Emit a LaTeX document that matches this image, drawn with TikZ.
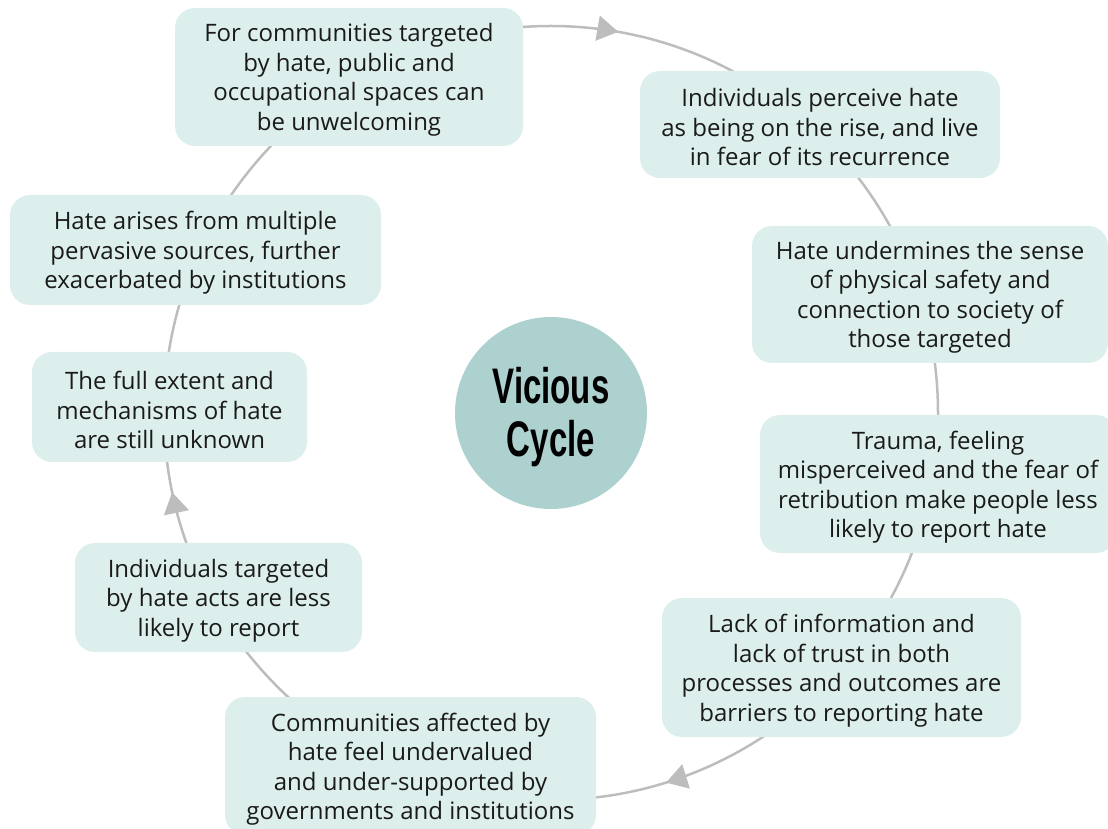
\documentclass[tikz,border=0pt]{standalone}
\usepackage{fontspec}
\setmainfont{Open Sans}
\newfontfamily\titlefont{Liberation Sans}
\usetikzlibrary{arrows.meta,decorations.markings}
\definecolor{boxfill}{HTML}{DCEFEC}
\definecolor{hubfill}{HTML}{ADD1CF}
\definecolor{ringgray}{HTML}{BDBDBD}
\definecolor{inktext}{HTML}{1A1A1A}
\begin{document}
\begin{tikzpicture}[x=1pt,y=1pt,
  stepbox/.style={fill=boxfill, rounded corners=20pt, inner sep=0pt},
  steptext/.style={align=center, inner sep=0pt, yshift=-3pt, fill=none,
    text=inktext, font=\fontsize{24}{29.5}\selectfont},
  hub/.style={circle, fill=hubfill, minimum size=192pt, inner sep=0pt},
  hubtext/.style={align=center, inner sep=0pt, yshift=-4pt,
    text=black, font=\titlefont\bfseries\fontsize{50}{53}\selectfont},
  ring/.style={draw=ringgray, line width=2.5pt},
  cyclearrow/.style={ringgray, fill=ringgray},
]
\useasboundingbox (0,0) rectangle (1108,828);
\node[hub, label={[hubtext]center:{\scalebox{0.66}[1]{Vicious}\\\scalebox{0.66}[1]{Cycle}}}] (hub) at (551,415) {};
\draw[ring, postaction={decorate}, decoration={markings,
    mark=at position 0.2222 with {\arrowreversed[cyclearrow]{Triangle[length=21pt,width=25pt]}},
    mark=at position 0.5328 with {\arrowreversed[cyclearrow]{Triangle[length=21pt,width=25pt]}},
    mark=at position 0.7980 with {\arrowreversed[cyclearrow]{Triangle[length=21pt,width=25pt]}}}]
  (hub.center) circle[radius=387pt];
\node[stepbox, minimum width=348pt, minimum height=138pt,
  label={[steptext]center:{For communities targeted\\by hate, public and\\occupational spaces can\\be unwelcoming}}] (b1) at (349,751) {};
\node[stepbox, minimum width=360pt, minimum height=107pt,
  label={[steptext]center:{Individuals perceive hate\\as being on the rise, and live\\in fear of its recurrence}}] (b2) at (820,703.5) {};
\node[stepbox, minimum width=356pt, minimum height=137pt,
  label={[steptext]center:{Hate undermines the sense\\of physical safety and\\connection to society of\\those targeted}}] (b3) at (930,533.5) {};
\node[stepbox, minimum width=356pt, minimum height=138pt,
  label={[steptext]center:{Trauma, feeling\\misperceived and the fear of\\retribution make people less\\likely to report hate}}] (b4) at (938,344) {};
\node[stepbox, minimum width=359pt, minimum height=139pt,
  label={[steptext]center:{Lack of information and\\lack of trust in both\\processes and outcomes are\\barriers to reporting hate}}] (b5) at (841.5,160.5) {};
\node[stepbox, minimum width=371pt, minimum height=138pt,
  label={[steptext]center:{Communities affected by\\hate feel undervalued\\and under-supported by\\governments and institutions}}] (b6) at (410.5,62) {};
\node[stepbox, minimum width=287pt, minimum height=109pt,
  label={[steptext]center:{Individuals targeted\\by hate acts are less\\likely to report}}] (b7) at (218.5,230.5) {};
\node[stepbox, minimum width=275pt, minimum height=110pt,
  label={[steptext]center:{The full extent and\\mechanisms of hate\\are still unknown}}] (b8) at (169.5,421) {};
\node[stepbox, minimum width=371pt, minimum height=110pt,
  label={[steptext]center:{Hate arises from multiple\\pervasive sources, further\\exacerbated by institutions}}] (b9) at (195.5,578) {};
\end{tikzpicture}
\end{document}
